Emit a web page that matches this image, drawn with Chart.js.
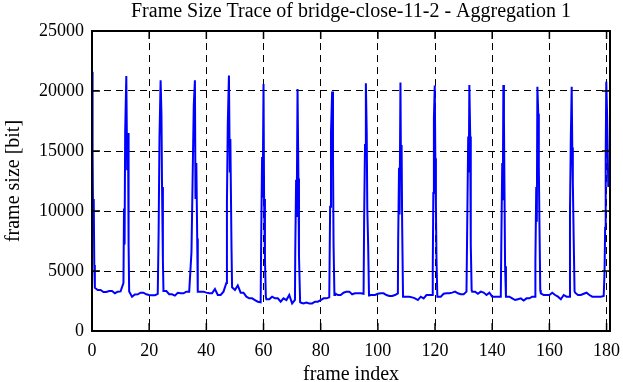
<!DOCTYPE html>
<html lang="en">
<head>
  <meta charset="UTF-8">
  <title>Frame Size Trace of bridge-close-11-2 - Aggregation 1</title>
  <script src="https://cdn.jsdelivr.net/npm/chart.js"></script>
  <style>
    html, body { margin: 0; padding: 0; background: #fff; }
    .chart-container { position: relative; width: 623px; height: 382px; }
  </style>
</head>
<body>
  <div class="chart-container">
    <canvas id="traceChart"></canvas>
  </div>

  <script>
    // frame index (x) and frame size in bit (y)
    const frameIndex = [
      0, 0.2, 0.4, 0.6, 0.8, 1, 2, 3, 4, 5, 6, 7, 8, 9, 10, 11,
      11.2, 11.4, 11.6, 12, 12.3, 12.6, 12.8, 13, 14, 15, 16, 17, 18, 19, 20, 21, 22, 23,
      23.3, 23.6, 24, 24.3, 24.5, 24.8, 25, 26, 27, 28, 29, 30, 31, 32, 33, 34,
      34.8, 35.2, 35.6, 36, 36.2, 36.5, 36.8, 37, 38, 39, 40, 41, 42, 43, 44, 45, 46, 47,
      47.2, 47.5, 47.9, 48.2, 48.4, 48.8, 49, 50, 51, 52, 53, 54, 55, 56, 57, 58, 59,
      59.2, 59.5, 59.7, 60, 60.2, 60.5, 60.8, 61, 62, 63, 64, 65, 66, 67, 68, 69, 70, 71,
      71.1, 71.4, 71.6, 71.9, 72.2, 72.4, 72.8, 73, 74, 75, 76, 77, 78, 79, 80, 81, 82, 83,
      83.3, 83.6, 84, 84.3, 84.5, 84.8, 85, 86, 87, 88, 89, 90, 91, 92, 93, 94, 95,
      95.2, 95.5, 95.8, 96.1, 96.3, 96.6, 96.9, 97, 98, 99, 100, 101, 102, 103, 104, 105, 106, 107,
      107.1, 107.4, 107.6, 107.9, 108.1, 108.3, 108.5, 108.8, 109, 110, 111, 112, 113, 114, 115, 116, 117, 118, 119,
      119.2, 119.4, 119.6, 119.9, 120.1, 120.3, 120.5, 120.8, 121, 122, 123, 124, 125, 126, 127, 128, 129, 130, 131,
      131.3, 131.6, 131.8, 132, 132.3, 132.5, 132.8, 133, 134, 135, 136, 137, 138, 139, 140, 141, 142, 143,
      143.2, 143.5, 143.7, 143.9, 144.1, 144.3, 144.5, 144.8, 145, 146, 147, 148, 149, 150, 151, 152, 153, 154, 155,
      155.1, 155.4, 155.6, 155.8, 156.1, 156.3, 156.5, 156.8, 157, 158, 159, 160, 161, 162, 163, 164, 165, 166, 167,
      167.2, 167.5, 167.8, 168, 168.2, 168.5, 168.8, 169, 170, 171, 172, 173, 174, 175, 176, 177, 178, 179,
      179.3, 179.5, 179.7, 179.9, 180.2, 180.6
    ];
    const frameSize = [
      21600, 15000, 8800, 11000, 5500, 3600, 3420, 3420, 3250, 3250, 3330, 3330, 3150, 3280, 3300, 4000,
      10200, 7200, 16500, 21250, 13400, 16500, 7200, 3300, 2860, 3050, 3060, 3190, 3190, 3060, 3000, 2970, 2970, 3100,
      8100, 16000, 20900, 18000, 12000, 5900, 3330, 3330, 3060, 3060, 2950, 3190, 3140, 3140, 3280, 3280,
      6600, 12700, 18800, 20900, 11000, 14000, 7700, 3280, 3280, 3280, 3200, 3140, 3140, 3500, 3000, 3000, 3280, 4000,
      10800, 17300, 21300, 13200, 16000, 6900, 3640, 3420, 3800, 3190, 3190, 2860, 2720, 2720, 2580, 2440, 2400,
      8100, 14500, 11100, 20580, 11000, 6050, 2860, 2650, 2650, 2860, 2720, 2720, 2440, 2720, 2580, 3000, 2300, 2600,
      6600, 12600, 9500, 20170, 12700, 6300, 2400, 2370, 2300, 2370, 2300, 2300, 2440, 2440, 2580, 2720, 2720, 2800,
      10360, 16500, 19950, 14400, 7200, 3000, 3140, 3000, 3000, 3190, 3280, 3280, 3060, 3140, 3140, 3140, 3100,
      9400, 15500, 20640, 16500, 10200, 7200, 2960, 3000, 3000, 3000, 3100, 3140, 3140, 3000, 2920, 2920, 3000, 3140,
      7500, 13600, 9700, 20700, 12700, 15500, 8800, 2860, 2860, 2860, 2860, 2800, 2720, 2580, 2860, 2720, 3000, 3000, 3000,
      5100, 11500, 17700, 20450, 14400, 10500, 6050, 2860, 2860, 2860, 3100, 3140, 3140, 3200, 3280, 3140, 3060, 3060, 3280,
      9800, 16200, 13200, 20500, 16200, 7200, 3400, 3280, 3280, 3100, 3280, 3200, 3000, 3190, 2860, 2860, 2860, 2860,
      7700, 14000, 10900, 20500, 17600, 11500, 5400, 2860, 2860, 2860, 2720, 2580, 2650, 2720, 2540, 2720, 2720, 2860, 2860,
      5800, 12000, 9100, 20360, 18100, 13700, 9400, 3400, 3140, 3000, 3000, 3000, 3190, 3000, 2860, 2650, 3000, 2860, 2860,
      9900, 16200, 20360, 15300, 12400, 7700, 3300, 3190, 3000, 3000, 3100, 3190, 3000, 2860, 2860, 2860, 2860, 2920,
      5000, 8600, 14800, 20780, 17800, 12000
    ];
    const xTicks = [0, 20, 40, 60, 80, 100, 120, 140, 160, 180];
    const yTicks = [0, 5000, 10000, 15000, 20000, 25000];

    const serif = 'Liberation Serif';

    // gnuplot-style frame: solid border with short tick marks pointing inwards
    const frameBox = {
      id: 'frameBox',
      afterDraw(chart) {
        const { ctx, chartArea: a, scales: { x, y } } = chart;
        ctx.save();
        ctx.strokeStyle = '#000';
        ctx.lineWidth = 1.5;
        ctx.beginPath();
        xTicks.forEach(v => {
          const px = x.getPixelForValue(v);
          ctx.moveTo(px, a.bottom); ctx.lineTo(px, a.bottom - 8);
          ctx.moveTo(px, a.top); ctx.lineTo(px, a.top + 8);
        });
        yTicks.forEach(v => {
          const py = y.getPixelForValue(v);
          ctx.moveTo(a.left, py); ctx.lineTo(a.left + 8, py);
          ctx.moveTo(a.right, py); ctx.lineTo(a.right - 8, py);
        });
        ctx.stroke();
        ctx.lineWidth = 2;
        ctx.strokeRect(a.left, a.top, a.right - a.left, a.bottom - a.top);
        ctx.restore();
      }
    };

    new Chart(document.getElementById('traceChart'), {
      type: 'line',
      data: {
        datasets: [{
          label: 'frame size',
          data: frameIndex.map((f, i) => ({ x: f, y: frameSize[i] })),
          borderColor: '#0000ff',
          borderWidth: 2,
          pointRadius: 0,
          tension: 0,
          fill: false
        }]
      },
      options: {
        responsive: true,
        maintainAspectRatio: false,
        animation: false,
        layout: { padding: { left: 0, right: 13, top: 0, bottom: 0 } },
        plugins: {
          legend: { display: false },
          tooltip: { enabled: false },
          title: {
            display: true,
            fullSize: false,
            text: 'Frame Size Trace of bridge-close-11-2 - Aggregation 1',
            color: '#000',
            font: { family: serif, size: 20, weight: 'normal', lineHeight: 1.2 },
            padding: { top: 0, bottom: 7 }
          }
        },
        scales: {
          x: {
            type: 'linear',
            min: 0,
            max: 181.2,
            afterBuildTicks: s => { s.ticks = xTicks.map(v => ({ value: v })); },
            afterFit: s => { s.height = 51; s.paddingLeft = 0; s.paddingRight = 0; },
            grid: { color: '#000', lineWidth: 1, drawTicks: false },
            border: { display: false, dash: [7, 5] },
            ticks: { color: '#000', padding: 9, maxRotation: 0, font: { family: serif, size: 18 }, callback: v => String(v) },
            title: {
              display: true,
              text: 'frame index',
              color: '#000',
              font: { family: serif, size: 20, lineHeight: 1.2 },
              padding: { top: 0, bottom: -5 }
            }
          },
          y: {
            min: 0,
            max: 25000,
            afterBuildTicks: s => { s.ticks = yTicks.map(v => ({ value: v })); },
            afterFit: s => { s.width = 92; s.paddingTop = 0; s.paddingBottom = 0; },
            grid: { color: '#000', lineWidth: 1, drawTicks: false },
            border: { display: false, dash: [7, 5] },
            ticks: { color: '#000', padding: 8, font: { family: serif, size: 18 }, callback: v => String(v) },
            title: {
              display: true,
              text: 'frame size [bit]',
              color: '#000',
              font: { family: serif, size: 20, lineHeight: 1.2 },
              padding: { top: 2, bottom: 0 }
            }
          }
        }
      },
      plugins: [frameBox]
    });
  </script>
</body>
</html>
